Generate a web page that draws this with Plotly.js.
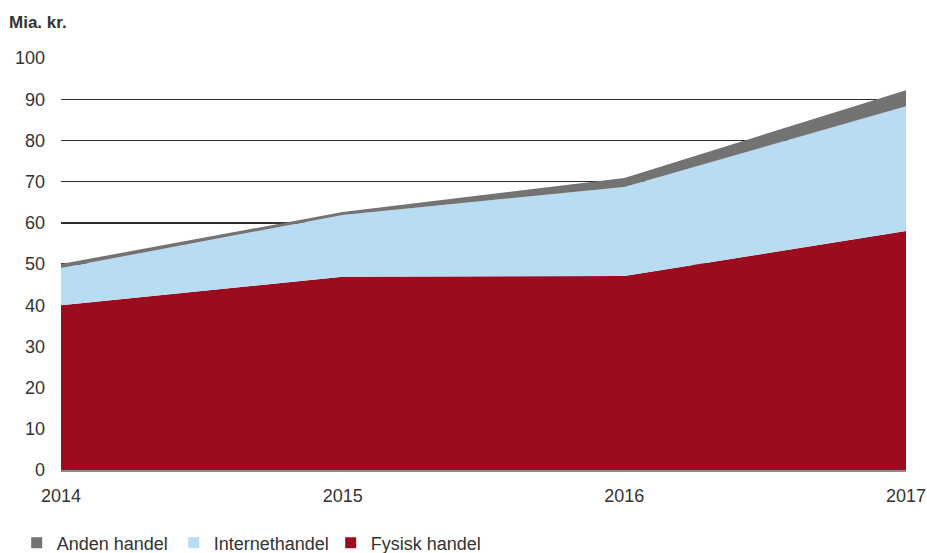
<!DOCTYPE html>
<html>
<head>
<meta charset="utf-8">
<script src="https://cdn.plot.ly/plotly-3.0.1.min.js"></script>
<style>
  html, body { margin: 0; padding: 0; background: #fff; }
  #chart { width: 927px; height: 553px; }
</style>
</head>
<body>
<div id="chart"></div>
<script>
// Handel, mia. kr., stacked areas
const years = [2014, 2015, 2016, 2017];
const fysisk = [40.0, 46.9, 47.1, 58.0];
const internet = [9.0, 15.0, 21.6, 30.3];
const anden = [1.0, 0.7, 2.2, 3.9];

const C = {
  fysisk: "#9B0D1E", internet: "#B8DDF2", anden: "#737373",
  ink: "#333333", grid: "#2e2e2e",
  font: "Liberation Sans, Arial, sans-serif",
};

const area = (y, name, color) => ({
  x: years, y: y, name: name, type: "scatter", mode: "lines",
  stackgroup: "one", fillcolor: color, line: { width: 0, color: color },
  showlegend: false, hoverinfo: "skip",
});
const key = (name, color) => ({
  x: [null], y: [null], name: name, type: "scatter", mode: "markers",
  marker: { symbol: "square", size: 11, color: color }, showlegend: true,
});

const data = [
  area(fysisk, "Fysisk handel", C.fysisk),
  area(internet, "Internethandel", C.internet),
  area(anden, "Anden handel", C.anden),
  key("Anden handel", C.anden),
  key("Internethandel", C.internet),
  key("Fysisk handel", C.fysisk),
];

const layout = {
  width: 927, height: 553,
  paper_bgcolor: "#fff", plot_bgcolor: "#fff",
  font: { family: C.font, size: 18, color: C.ink },
  margin: { l: 61, r: 21, t: 58, b: 83 },
  xaxis: {
    range: [2014, 2017], tickvals: years, ticktext: years.map(String),
    showgrid: false, zeroline: false, showline: true,
    linecolor: "#8c8c8c", linewidth: 1.5, ticks: "", ticklabelstandoff: 9,
    tickfont: { size: 18, color: C.ink },
  },
  yaxis: {
    range: [0, 100], dtick: 10, showgrid: true, gridcolor: C.grid,
    gridwidth: 1.4, zeroline: false, showline: false, ticks: "",
    ticklabelstandoff: 15, tickfont: { size: 18, color: C.ink },
  },
  annotations: [{
    text: "<b>Mia. kr.</b>", xref: "paper", yref: "paper",
    x: -54 / 845, y: 1, xanchor: "left", yanchor: "bottom", yshift: 24,
    showarrow: false, font: { size: 17, color: C.ink },
  }],
  showlegend: true,
  legend: {
    orientation: "h", xref: "container", yref: "container",
    x: 0.018, y: 0.018, xanchor: "left", yanchor: "middle",
    font: { size: 18, color: C.ink }, itemwidth: 30,
    entrywidth: 112, entrywidthmode: "pixels", traceorder: "normal",
  },
};

Plotly.newPlot("chart", data, layout, { displayModeBar: false, staticPlot: true });
</script>
</body>
</html>
